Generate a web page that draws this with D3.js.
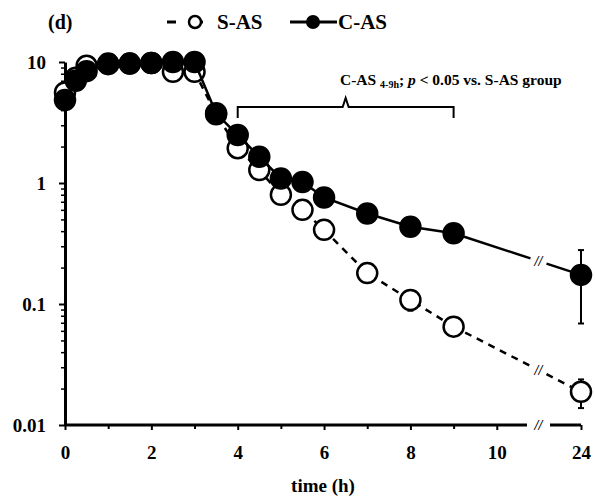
<!DOCTYPE html>
<html>
<head>
<meta charset="utf-8">
<script src="https://cdn.jsdelivr.net/npm/d3@7"></script>
<style>
  body { margin: 0; background: #fff; }
  text { font-family: "Liberation Serif", "DejaVu Serif", serif; font-weight: bold; fill: #000; }
</style>
</head>
<body>
<svg width="595" height="500"></svg>
<script>
// time points (h) and mean values
var times = [0, 0.25, 0.5, 1, 1.5, 2, 2.5, 3, 3.5, 4, 4.5, 5, 5.5, 6, 7, 8, 9, 24];
var sasValues = [5.6, 7.4, 9.3, 9.6, 9.7, 9.8, 8.3, 8.3, 3.7, 1.94, 1.28, 0.80, 0.60, 0.41, 0.18, 0.108, 0.065, 0.0188];
var casValues = [4.85, 7.0, 8.4, 9.7, 9.7, 9.8, 10.0, 10.0, 3.77, 2.49, 1.65, 1.09, 1.02, 0.76, 0.56, 0.435, 0.384, 0.174];
var sasErr = [0, 0, 0, 0, 0, 0, 0, 0, 0, 0, 0, 0, 0, 0, 0, 0.02, 0.01, 0.005];
var casErr = [0, 0, 0, 0, 0, 0, 0, 0, 0, 0, 0, 0, 0, 0, 0, 0, 0, 0.105];

var xTickLabels = [0, 2, 4, 6, 8, 10, 24];
var xMinorTicks = [1, 3, 5, 7, 9];
var yTickLabels = [0.01, 0.1, 1, 10];

var svg = d3.select("svg");

// broken x axis: 0-10.7 then jump to 24
var x = d3.scaleLinear().domain([0, 10.7, 23.3, 24]).range([65, 527, 550, 581]);
var y = d3.scaleLog().domain([0.01, 10]).range([425, 62]);

var breakX = (x(10.7) + x(23.3)) / 2;

// y axis
var yAxis = d3.axisLeft(y)
    .tickValues(yTickLabels)
    .tickSize(6)
    .tickSizeOuter(0)
    .tickFormat(function(d) { return d >= 1 ? d3.format("d")(d) : String(d); });
var gy = svg.append("g").attr("transform", "translate(" + x(0) + ",0)").call(yAxis);
gy.select(".domain").attr("stroke-width", 3);
gy.selectAll(".tick line").attr("stroke-width", 2);
gy.selectAll("text").style("font-size", "19px").attr("dx", "-10");

var minor = [];
yTickLabels.slice(0, 3).forEach(function(d) {
    for (var k = 2; k <= 9; k++) minor.push(d * k);
});
var gym = svg.append("g").attr("transform", "translate(" + x(0) + ",0)")
    .call(d3.axisLeft(y).tickValues(minor).tickSize(4).tickFormat(""));
gym.select(".domain").remove();
gym.selectAll(".tick line").attr("stroke-width", 1.5);

// x axis
var gx = svg.append("g").attr("transform", "translate(0," + y(0.01) + ")")
    .call(d3.axisBottom(x).tickValues(xTickLabels).tickSize(5).tickPadding(16));
gx.select(".domain").remove();
gx.selectAll(".tick line").attr("stroke-width", 2);
gx.selectAll("text").style("font-size", "19px");

var gxm = svg.append("g").attr("transform", "translate(0," + y(0.01) + ")")
    .call(d3.axisBottom(x).tickValues(xMinorTicks).tickSize(4).tickFormat(""));
gxm.select(".domain").remove();
gxm.selectAll(".tick line").attr("stroke-width", 2);

svg.append("line").attr("x1", x(0)).attr("x2", x(10.7))
    .attr("y1", y(0.01)).attr("y2", y(0.01)).attr("stroke", "#000").attr("stroke-width", 3);
svg.append("line").attr("x1", x(23.3)).attr("x2", x(24))
    .attr("y1", y(0.01)).attr("y2", y(0.01)).attr("stroke", "#000").attr("stroke-width", 3);
svg.append("text").attr("x", breakX).attr("y", y(0.01) + 5)
    .attr("text-anchor", "middle").style("font-size", "14px").style("font-style", "italic").text("//");

svg.append("text").attr("x", (x(0) + x(24)) / 2).attr("y", 492)
    .attr("text-anchor", "middle").style("font-size", "19px").text("time (h)");

// series
function drawSeries(vals, errs, filled, dash) {
    var pts = times.map(function(t, i) { return { t: t, v: vals[i], e: errs[i] }; });
    var early = pts.filter(function(d) { return d.t <= 9; });
    var line = d3.line().x(function(d) { return x(d.t); }).y(function(d) { return y(d.v); });

    svg.append("path").datum(early).attr("d", line)
        .attr("fill", "none").attr("stroke", "#000").attr("stroke-width", 2.5)
        .attr("stroke-dasharray", dash);

    // segment over the axis break
    var a = pts[pts.length - 2], b = pts[pts.length - 1];
    var ax = x(a.t), ay = y(a.v), bx = x(b.t), by = y(b.v);
    function yAt(px) { return ay + (by - ay) * (px - ax) / (bx - ax); }
    var g1 = breakX - 8, g2 = breakX + 8;
    svg.append("path").attr("d", "M" + ax + "," + ay + "L" + g1 + "," + yAt(g1))
        .attr("fill", "none").attr("stroke", "#000").attr("stroke-width", 2.5).attr("stroke-dasharray", dash);
    svg.append("path").attr("d", "M" + g2 + "," + yAt(g2) + "L" + bx + "," + by)
        .attr("fill", "none").attr("stroke", "#000").attr("stroke-width", 2.5).attr("stroke-dasharray", dash);
    svg.append("text").attr("x", breakX).attr("y", yAt(breakX) + 5)
        .attr("text-anchor", "middle").style("font-size", "14px").style("font-style", "italic").text("//");

    // error bars
    pts.filter(function(d) { return d.e > 0; }).forEach(function(d) {
        var top = y(d.v + d.e), bot = y(Math.max(d.v - d.e, 0.0101));
        svg.append("line").attr("x1", x(d.t)).attr("x2", x(d.t)).attr("y1", top).attr("y2", bot)
            .attr("stroke", "#000").attr("stroke-width", 2);
        [top, bot].forEach(function(yy) {
            svg.append("line").attr("x1", x(d.t) - 3).attr("x2", x(d.t) + 3).attr("y1", yy).attr("y2", yy)
                .attr("stroke", "#000").attr("stroke-width", 2);
        });
    });

    svg.append("g").selectAll("circle").data(pts).enter().append("circle")
        .attr("cx", function(d) { return x(d.t); })
        .attr("cy", function(d) { return y(d.v); })
        .attr("r", 10)
        .attr("fill", filled ? "#000" : "#fff")
        .attr("stroke", "#000").attr("stroke-width", 2.5);
}

drawSeries(sasValues, sasErr, false, "7,6");
drawSeries(casValues, casErr, true, null);

// significance bracket
var bx1 = x(4), bx2 = x(9), bmid = (bx1 + bx2) / 2, by0 = 107;
svg.append("path")
    .attr("d", "M" + bx1 + "," + (by0 + 11) + "L" + bx1 + "," + by0 + "L" + (bmid - 3) + "," + by0 +
        "L" + bmid + "," + (by0 - 9) + "L" + (bmid + 3) + "," + by0 + "L" + bx2 + "," + by0 + "L" + bx2 + "," + (by0 + 11))
    .attr("fill", "none").attr("stroke", "#000").attr("stroke-width", 2);

var ann = svg.append("text").attr("x", 340).attr("y", 85).style("font-size", "15.5px");
ann.append("tspan").text("C-AS ");
ann.append("tspan").attr("dy", 3).style("font-size", "10px").text("4-9h");
ann.append("tspan").attr("dy", -3).text("; ");
ann.append("tspan").style("font-style", "italic").text("p");
ann.append("tspan").text(" < 0.05 vs. S-AS group");

// panel label and legend
svg.append("text").attr("x", 48).attr("y", 29).style("font-size", "20px").text("(d)");

var legY = 22;
var leg1 = svg.append("g");
leg1.append("line").attr("x1", 167).attr("x2", 213).attr("y1", legY).attr("y2", legY)
    .attr("stroke", "#000").attr("stroke-width", 3).attr("stroke-dasharray", "9,18");
leg1.append("circle").attr("cx", 195).attr("cy", legY).attr("r", 6)
    .attr("fill", "#fff").attr("stroke", "#000").attr("stroke-width", 2.5);
leg1.append("text").attr("x", 217).attr("y", legY + 7).style("font-size", "21px").text("S-AS");

var leg2 = svg.append("g");
leg2.append("line").attr("x1", 290).attr("x2", 337).attr("y1", legY).attr("y2", legY)
    .attr("stroke", "#000").attr("stroke-width", 3);
leg2.append("circle").attr("cx", 313).attr("cy", legY).attr("r", 7).attr("fill", "#000");
leg2.append("text").attr("x", 338).attr("y", legY + 7).style("font-size", "21px").text("C-AS");
</script>
</body>
</html>
